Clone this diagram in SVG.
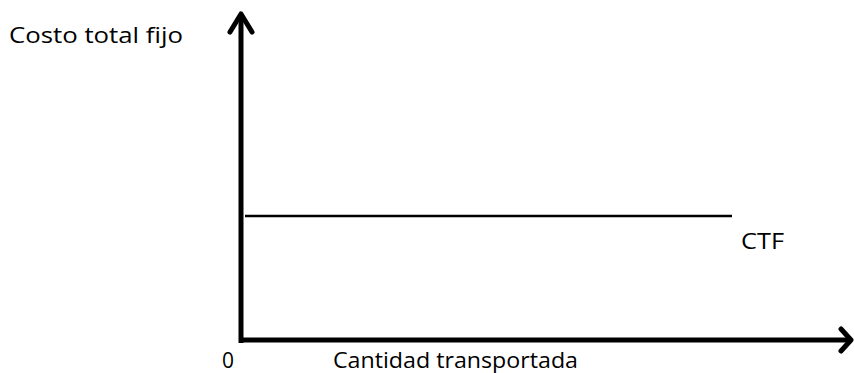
<svg xmlns="http://www.w3.org/2000/svg" width="854" height="373" viewBox="0 0 854 373">
<style>
.lbl{font-family:"Open Sans","Liberation Sans",sans-serif;font-size:21px;fill:#000}
.axis{stroke:#000;stroke-width:5;fill:none;stroke-linecap:butt}
.head{stroke:#000;stroke-width:5;fill:none;stroke-linecap:round;stroke-linejoin:round}
.curve{stroke:#000;stroke-width:2.5;fill:none}
</style>
<rect width="854" height="373" fill="#fff"/>
<g id="connectors">
<g id="y-axis">
<line class="axis" x1="241" y1="343" x2="241" y2="14"/>
<polyline class="head" points="230,32 241,14 252,32"/>
</g>
<g id="x-axis">
<line class="axis" x1="239" y1="340" x2="851" y2="340"/>
<polyline class="head" points="841,329 851,340 841,351"/>
</g>
<g id="ctf-line">
<line class="curve" x1="245" y1="216" x2="732" y2="216"/>
</g>
</g>
<g id="label-y">
<text class="lbl" x="9" y="43" textLength="174" lengthAdjust="spacingAndGlyphs">Costo total fijo</text>
</g>
<g id="label-ctf">
<text class="lbl" x="741" y="249" textLength="43" lengthAdjust="spacingAndGlyphs">CTF</text>
</g>
<g id="label-origin">
<text class="lbl" x="222" y="368" textLength="12" lengthAdjust="spacingAndGlyphs">0</text>
</g>
<g id="label-x">
<text class="lbl" x="333" y="368" textLength="245" lengthAdjust="spacingAndGlyphs">Cantidad transportada</text>
</g>
</svg>
